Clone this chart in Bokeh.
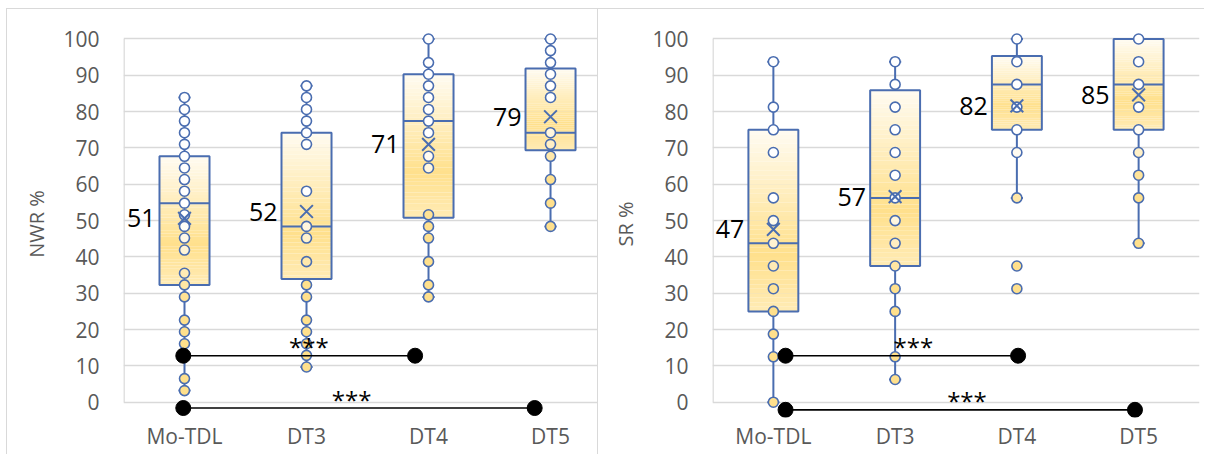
import numpy as np
from bokeh.plotting import figure
from bokeh.layouts import row
from bokeh.models import Range1d, FixedTicker
from bokeh.core.properties import value
from bokeh.embed import file_html
from bokeh.resources import INLINE

# ---------------- data ----------------
categories = ["Mo-TDL", "DT3", "DT4", "DT5"]

# NWR % (left panel) – individual data points per group
nwr_mo_tdl = [83.9, 80.6, 77.4, 74.2, 71.0, 67.7, 64.5, 61.3, 58.1, 54.8, 51.6, 48.4,
              45.2, 41.9, 35.5, 32.3, 29.0, 22.6, 19.4, 16.1, 12.9, 6.5, 3.2]
nwr_dt3 = [87.1, 83.9, 80.6, 77.4, 74.2, 71.0, 58.1, 48.4, 45.2, 38.7, 32.3, 29.0,
           22.6, 19.4, 16.1, 12.9, 9.7]
nwr_dt4 = [100.0, 93.5, 90.3, 87.1, 83.9, 80.6, 77.4, 74.2, 67.7, 64.5, 51.6, 48.4,
           45.2, 38.7, 32.3, 29.0]
nwr_dt5 = [100.0, 96.8, 93.5, 90.3, 87.1, 83.9, 74.2, 71.0, 67.7, 61.3, 54.8, 48.4]
nwr_q1 = [32.3, 33.9, 50.8, 69.4]
nwr_median = [54.8, 48.4, 77.4, 74.2]
nwr_q3 = [67.7, 74.2, 90.3, 91.9]
nwr_low = [3.2, 9.7, 29.0, 48.4]
nwr_high = [83.9, 87.1, 100.0, 100.0]
nwr_mean = [50.6, 52.5, 71.0, 78.6]
nwr_mean_labels = ["51", "52", "71", "79"]

# SR % (right panel)
sr_mo_tdl = [93.75, 81.25, 75.0, 68.75, 56.25, 50.0, 43.75, 37.5, 31.25, 25.0, 18.75, 12.5, 0.0]
sr_dt3 = [93.75, 87.5, 81.25, 75.0, 68.75, 62.5, 56.25, 50.0, 43.75, 37.5, 31.25, 25.0, 12.5, 6.25]
sr_dt4 = [100.0, 93.75, 87.5, 81.25, 75.0, 68.75, 56.25, 37.5, 31.25]
sr_dt5 = [100.0, 93.75, 87.5, 81.25, 75.0, 68.75, 62.5, 56.25, 43.75]
sr_q1 = [25.0, 37.5, 75.0, 75.0]
sr_median = [43.75, 56.25, 87.5, 87.5]
sr_q3 = [75.0, 85.9, 95.3, 100.0]
sr_low = [0.0, 6.25, 56.25, 43.75]
sr_high = [93.75, 93.75, 100.0, 100.0]
sr_mean = [47.6, 56.6, 81.6, 84.6]
sr_mean_labels = ["47", "57", "82", "85"]

y_ticks = [0, 10, 20, 30, 40, 50, 60, 70, 80, 90, 100]

# ---------------- style ----------------
BLUE = "#4a6db0"
GRID = "#d9d9d9"
TICK_COLOR = "#595959"
FONT = "Open Sans"
BOX_W = 0.41
CAP_W = 0.1


def hex2rgb(h):
    h = h.lstrip("#")
    return np.array([int(h[i:i + 2], 16) for i in (0, 2, 4)], dtype=float)


def rgb2hex(c):
    c = np.clip(np.round(c), 0, 255).astype(int)
    return "#%02x%02x%02x" % tuple(c)


def grad(t, stops):
    for (t0, c0), (t1, c1) in zip(stops[:-1], stops[1:]):
        if t <= t1:
            f = 0 if t1 == t0 else (t - t0) / (t1 - t0)
            f = min(max(f, 0), 1)
            return rgb2hex(hex2rgb(c0) * (1 - f) + hex2rgb(c1) * f)
    return stops[-1][1]


BOX_STOPS = [(0.0, "#fffcf2"), (0.68, "#ffe08c"), (1.0, "#ffebb5")]   # top -> bottom
PT_STOPS = [(0.0, "#ffe08c"), (0.3, "#ffe08c"), (0.58, "#ffffff"), (1.0, "#ffffff")]  # bottom -> top


def make_panel(groups, q1, med, q3, lo, hi, mean, mean_labels, ylabel, width,
               x_end, border_left, border_right, sigs):
    p = figure(width=width, height=446, output_backend="svg", toolbar_location=None,
               x_range=Range1d(0, x_end), y_range=Range1d(-4.21, 102.34),
               min_border_left=border_left, min_border_right=border_right,
               min_border_top=21, min_border_bottom=38)
    p.outline_line_color = None
    p.background_fill_color = "white"
    p.border_fill_color = "white"

    p.yaxis.ticker = FixedTicker(ticks=y_ticks)
    p.yaxis.axis_line_color = None
    p.yaxis.major_tick_line_color = None
    p.yaxis.minor_tick_line_color = None
    p.yaxis.major_label_standoff = 18
    p.yaxis.major_label_text_font = FONT
    p.yaxis.major_label_text_font_size = "21px"
    p.yaxis.major_label_text_color = TICK_COLOR
    p.yaxis.axis_label = ylabel
    p.yaxis.axis_label_text_font = FONT
    p.yaxis.axis_label_text_font_size = "20px"
    p.yaxis.axis_label_text_font_style = "normal"
    p.yaxis.axis_label_text_color = TICK_COLOR
    p.yaxis.axis_label_standoff = 10

    centers = [i + 0.5 for i in range(len(categories))]
    p.xaxis.ticker = FixedTicker(ticks=centers)
    p.xaxis.major_label_overrides = {c: name for c, name in zip(centers, categories)}
    p.xaxis.axis_line_color = None
    p.xaxis.major_tick_line_color = None
    p.xaxis.minor_tick_line_color = None
    p.xaxis.major_label_standoff = -2
    p.xaxis.major_label_text_font = FONT
    p.xaxis.major_label_text_font_size = "21px"
    p.xaxis.major_label_text_color = TICK_COLOR

    p.xgrid.grid_line_color = None
    p.ygrid.ticker = FixedTicker(ticks=y_ticks)
    p.ygrid.grid_line_color = GRID
    p.ygrid.grid_line_width = 1.6

    p.segment(x0=[0.004], y0=[0], x1=[0.004], y1=[100], line_color=GRID, line_width=1.6)

    for i, cx in enumerate(centers):
        n = 40
        edges = np.linspace(q3[i], q1[i], n + 1)
        cols = [grad((k + 0.5) / n, BOX_STOPS) for k in range(n)]
        p.quad(left=[cx - BOX_W / 2] * n, right=[cx + BOX_W / 2] * n, top=list(edges[:-1]),
               bottom=list(edges[1:]), fill_color=cols, line_color=None)
        p.segment(x0=[cx, cx], y0=[lo[i], q3[i]], x1=[cx, cx], y1=[q1[i], hi[i]],
                  line_color=BLUE, line_width=2)
        p.segment(x0=[cx - CAP_W / 2, cx - CAP_W / 2], y0=[lo[i], hi[i]],
                  x1=[cx + CAP_W / 2, cx + CAP_W / 2], y1=[lo[i], hi[i]],
                  line_color=BLUE, line_width=2)
        p.quad(left=[cx - BOX_W / 2], right=[cx + BOX_W / 2], top=[q3[i]], bottom=[q1[i]],
               fill_color=None, line_color=BLUE, line_width=2)
        p.segment(x0=[cx - BOX_W / 2], y0=[med[i]], x1=[cx + BOX_W / 2], y1=[med[i]],
                  line_color=BLUE, line_width=2)
        pts = groups[i]
        pmin, pmax = min(pts), max(pts)
        fills = [grad((v - pmin) / (pmax - pmin), PT_STOPS) for v in pts]
        p.scatter(x=[cx] * len(pts), y=pts, size=10, marker="circle",
                  fill_color=fills, line_color=BLUE, line_width=1.6)
        p.scatter(x=[cx], y=[mean[i]], marker="x", size=18, line_color=BLUE, line_width=2)

    p.text(x=[c - BOX_W / 2 for c in centers], y=mean, text=mean_labels,
           text_align="right", text_baseline="middle", x_offset=-4,
           text_font=value(FONT), text_font_size="25px", text_color="black")

    for (xa, xb, yv, xt) in sigs:
        p.segment(x0=[xa], y0=[yv], x1=[xb], y1=[yv], line_color="black", line_width=1.6)
        p.scatter(x=[xa, xb], y=[yv, yv], size=15, marker="circle",
                  fill_color="black", line_color="black")
        p.text(x=[xt], y=[yv], text=["***"], text_align="center", text_baseline="alphabetic",
               y_offset=-9, text_font=value(FONT), text_font_size="24px", text_color="black")
    return p


left_sigs = [(0.49, 2.39, 12.8, 1.52), (0.49, 3.37, -1.6, 1.87)]
right_sigs = [(0.6, 2.51, 12.8, 1.65), (0.6, 3.47, -2.1, 2.09)]

p1 = make_panel([nwr_mo_tdl, nwr_dt3, nwr_dt4, nwr_dt5], nwr_q1, nwr_median, nwr_q3,
                nwr_low, nwr_high, nwr_mean, nwr_mean_labels, "NWR %", 592, 3.885,
                116, 2, left_sigs)
p2 = make_panel([sr_mo_tdl, sr_dt3, sr_dt4, sr_dt5], sr_q1, sr_median, sr_q3,
                sr_low, sr_high, sr_mean, sr_mean_labels, "SR %", 606, 4.0,
                114, 5, right_sigs)

p1.styles = {"border-top": "1px solid #d9d9d9", "border-right": "1px solid #d9d9d9",
             "border-left": "1px solid #d9d9d9", "box-sizing": "border-box"}
p2.styles = {"border-top": "1px solid #d9d9d9", "box-sizing": "border-box"}

layout = row(p1, p2, styles={"margin-top": "8px", "margin-left": "6px"})
open("out.html", "w").write(file_html(layout, INLINE))
